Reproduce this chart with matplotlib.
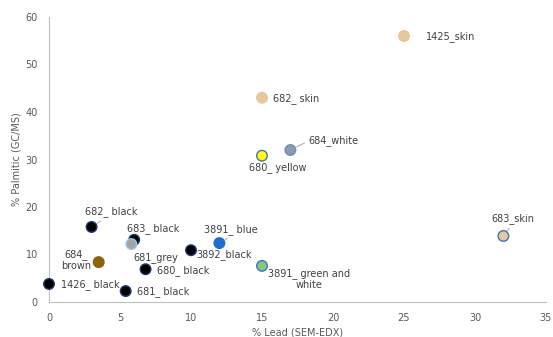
import matplotlib
matplotlib.use('Agg')
import matplotlib.pyplot as plt

# sample names, lead content (SEM-EDX) and palmitic acid (GC/MS)
names = ['1425_skin', '682_ skin', '684_white', '680_ yellow', '683_skin',
         '682_ black', '683_ black', '681_grey', '684_\nbrown', '680_ black',
         '1426_ black', '681_ black', '3892_black', '3891_ blue',
         '3891_ green and\nwhite']
lead = [25, 15, 17, 15, 32, 3, 6, 5.8, 3.5, 6.8, 0, 5.4, 10, 12, 15]
palmitic = [56, 43, 32, 30.8, 13.9, 15.8, 13.1, 12.2, 8.4, 6.9, 3.8, 2.3, 10.9, 12.4, 7.6]

faces = ['#E6C89A', '#E6C89A', '#8E9BAE', '#FFFF00', '#E6C89A',
         '#000000', '#000000', '#A5A5A5', '#8B6508', '#000000',
         '#000000', '#000000', '#000000', '#1F6FD1', '#7FCB7F']
edges = ['#E6C89A', '#E6C89A', '#6F8FC0', '#4A6FB0', '#4472C4',
         '#1F3A6E', '#1F3A6E', '#9DC3E6', '#8B6508', '#1F3A6E',
         '#1F3A6E', '#1F3A6E', '#1F3A6E', '#1F6FD1', '#4472C4']

# label placement in pixels relative to the point: dx, dy, alignment,
# and where a leader line meets the label box (None = no leader)
label_pos = [(22, -1, 'left', None), (11, -1, 'left', None), (18, 9, 'left', (0, 0.5)),
             (16, -12, 'center', None), (9, 17, 'center', (0.5, 0)), (20, 15, 'center', (0.4, 0)),
             (19, 11, 'center', None), (2, -13, 'left', None), (-23, 2, 'center', None),
             (11, -1, 'left', None), (12, -1, 'left', None), (11, 0, 'left', None),
             (5, -4, 'left', None), (11, 14, 'center', (0.55, 0)), (47, -13, 'center', None)]

fig = plt.figure(figsize=(5.53, 3.37), dpi=100)
ax = fig.add_axes([49 / 553, 35 / 337, 497 / 553, 285 / 337])

ax.scatter(lead, palmitic, s=58, c=faces, edgecolors=edges, linewidths=1.0,
           zorder=3, clip_on=False)

for name, x, y, (dx, dy, ha, rel) in zip(names, lead, palmitic, label_pos):
    props = None
    if rel is not None:
        props = dict(arrowstyle='-', color='#A6A6A6', lw=0.7, relpos=rel,
                     shrinkA=1, shrinkB=5)
    ax.annotate(name, (x, y), xytext=(dx, dy), textcoords='offset pixels',
                ha=ha, va='center', multialignment='center', fontsize=7,
                color='#404040', arrowprops=props, zorder=4)

ax.set_xlim(0, 35)
ax.set_ylim(0, 60)
ax.set_xticks(range(0, 36, 5))
ax.set_yticks(range(0, 61, 10))
ax.tick_params(length=0, labelsize=7, colors='#595959', pad=8)
for side in ['top', 'right']:
    ax.spines[side].set_visible(False)
for side in ['left', 'bottom']:
    ax.spines[side].set_color('#BFBFBF')
    ax.spines[side].set_linewidth(0.8)

ax.set_xlabel('% Lead (SEM-EDX)', fontsize=7, color='#595959', labelpad=3)
ax.set_ylabel('% Palmitic (GC/MS)', fontsize=7, color='#595959', labelpad=3)

fig.savefig('out.png', dpi=100)
